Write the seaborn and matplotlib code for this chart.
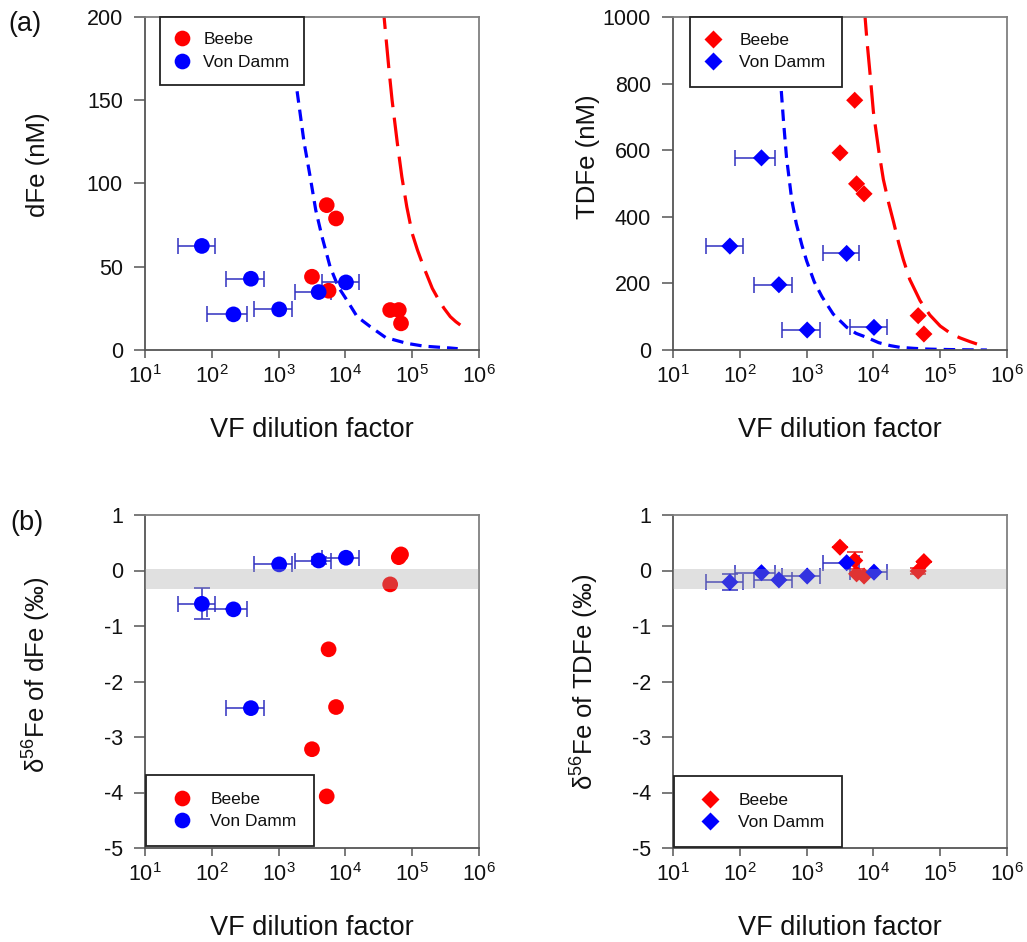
import numpy as np
import pandas as pd
import matplotlib
matplotlib.use("Agg")
import matplotlib.pyplot as plt
import seaborn as sns
from matplotlib.lines import Line2D

# ---------------- data ----------------
# Von Damm
vd_vf = [71, 211, 385, 1020, 3980, 10200]
vd_vf_err = [40, 125, 220, 590, 2200, 5700]
vd_dfe = [62.5, 21.4, 42.8, 24.4, 34.8, 40.6]
vd_tdfe = [312, 577, 196, 60, 290, 68]
vd_d56_dfe = [-0.60, -0.70, -2.48, 0.11, 0.18, 0.23]
vd_d56_dfe_err = [0.28, 0, 0, 0, 0.06, 0]
vd_d56_tdfe = [-0.21, -0.04, -0.17, -0.10, 0.14, -0.03]
vd_d56_tdfe_err = [0.14, 0, 0, 0, 0, 0]

# Beebe
bb_vf = [3160, 5250, 5600, 7240, 46800, 63000, 68000]
bb_dfe = [44, 87, 35.6, 79, 24, 24, 16]
bb_d56_dfe = [-3.22, -4.07, -1.42, -2.46, -0.25, 0.24, 0.29]
bb_vf_t = [3160, 5250, 5600, 7240, 46800, 57000]
bb_tdfe = [592, 750, 499, 469, 103, 48]
bb_d56_tdfe = [0.42, 0.18, -0.06, -0.10, -0.01, 0.16]
bb_d56_tdfe_err = [0, 0.15, 0, 0, 0.06, 0]

# dilution curves
cur_dfe_blue_vf = [1400, 1840, 2400, 2970, 3600, 4470, 5900, 7800, 10500, 15000,
                   23600, 40000, 83000, 150000, 372000, 480000]
cur_dfe_blue_fe = [215, 159, 125, 104, 84, 68, 50, 38, 30, 20,
                   14, 7.5, 4, 2.3, 1.2, 0.8]
cur_dfe_red_vf = [36000, 40000, 45000, 50000, 60000, 70000, 83000, 100000, 120000,
                  148000, 200000, 250000, 300000, 372000, 450000, 525000]
cur_dfe_red_fe = [210, 190, 168, 150, 124, 104, 86, 70, 60,
                  50, 37, 30, 25, 20, 17, 15]
cur_tdfe_blue_vf = [370, 412, 450, 500, 600, 700, 850, 1000, 1300, 1700, 2500, 4000,
                    5500, 7900, 12000, 18000, 25000, 40000, 60000, 100000, 200000, 500000]
cur_tdfe_blue_fe = [1000, 795, 690, 579, 450, 380, 315, 268, 205, 160, 108, 68,
                    50, 38, 22, 13, 8, 5, 3, 1.8, 0.8, 0]
cur_tdfe_red_vf = [7300, 8000, 9000, 10000, 12000, 14100, 17000, 20000, 24000, 28000,
                   35000, 50000, 70000, 100000, 150000, 200000, 280000, 355000]
cur_tdfe_red_fe = [1030, 930, 820, 715, 600, 512, 440, 385, 320, 272,
                   212, 148, 105, 72, 47, 36, 25, 18]

band_lo, band_hi = -0.33, 0.03

RED = "#ff0000"
BLUE = "#0000ff"
EB_BLUE = "#3030c0"
EB_RED = "#e02020"

# ---------------- style ----------------
sns.set_theme(style="ticks")
plt.rcParams["font.family"] = ["Liberation Sans", "DejaVu Sans"]
plt.rcParams["mathtext.fontset"] = "custom"
plt.rcParams["mathtext.rm"] = "Liberation Sans"
plt.rcParams["mathtext.it"] = "Liberation Sans:italic"
plt.rcParams["mathtext.bf"] = "Liberation Sans:bold"
plt.rcParams["axes.unicode_minus"] = False
plt.rcParams["text.color"] = "#111111"
plt.rcParams["axes.labelcolor"] = "#111111"
plt.rcParams["xtick.labelcolor"] = "#111111"
plt.rcParams["ytick.labelcolor"] = "#111111"

W, H = 1027, 942
fig = plt.figure(figsize=(W / 100, H / 100), dpi=100)


def make_ax(l, t, r, b):
    return fig.add_axes([l / W, 1 - b / H, (r - l) / W, (b - t) / H])


axTL = make_ax(145, 17, 479, 350)
axTR = make_ax(673, 17, 1007, 350)
axBL = make_ax(145, 515, 479, 848)
axBR = make_ax(673, 515, 1007, 848)

CIRC_S = 128
DIAM_S = 76


def style_ax(ax, ylim, yticks, ylabel, ylab_x, ylab_y):
    ax.set_xscale("log")
    ax.set_xlim(10, 1e6)
    ax.set_xticks([1e1, 1e2, 1e3, 1e4, 1e5, 1e6])
    ax.xaxis.set_minor_locator(matplotlib.ticker.NullLocator())
    ax.set_ylim(*ylim)
    ax.set_yticks(yticks)
    for s in ["left", "bottom"]:
        ax.spines[s].set_color("#555555")
        ax.spines[s].set_linewidth(1.3)
    for s in ["top", "right"]:
        ax.spines[s].set_visible(True)
        ax.spines[s].set_color("#808080")
        ax.spines[s].set_linewidth(1.3)
    ax.tick_params(axis="x", direction="out", length=6, width=1.1, color="#555555",
                   labelsize=15.5, pad=5, top=False)
    ax.tick_params(axis="y", direction="out", length=8, width=1.1, color="#555555",
                   labelsize=15.5, pad=8, right=False)
    ax.set_xlabel("VF dilution factor", fontsize=19.5)
    ax.xaxis.set_label_coords(0.5, -0.2)
    ax.set_ylabel(ylabel, fontsize=18.5)
    ax.yaxis.set_label_coords(ylab_x, ylab_y)
    ax.set_facecolor("white")
    ax.grid(False)


def curve(ax, x, y, color, dashes):
    sns.lineplot(x=x, y=y, ax=ax, color=color, lw=2.3, sort=False,
                 estimator=None, legend=False, zorder=2)
    ax.lines[-1].set_dashes(dashes)


def legend(ax, marker, ms, loc, anchor, borderpad, handlelength, handletextpad, labelspacing):
    handles = [Line2D([], [], marker=marker, ls="none", color=RED, mec="none", ms=ms),
               Line2D([], [], marker=marker, ls="none", color=BLUE, mec="none", ms=ms)]
    lg = ax.legend(handles, ["Beebe", "Von Damm"], loc=loc, bbox_to_anchor=anchor,
                   borderaxespad=0, fontsize=12.5, frameon=True, fancybox=False,
                   borderpad=borderpad, handlelength=handlelength,
                   handletextpad=handletextpad, labelspacing=labelspacing)
    fr = lg.get_frame()
    fr.set_edgecolor("#222222")
    fr.set_linewidth(1.3)
    fr.set_facecolor("white")
    fr.set_alpha(1)
    lg.set_zorder(10)


# ---------- (a) dFe ----------
ax = axTL
curve(ax, cur_dfe_blue_vf, cur_dfe_blue_fe, BLUE, (3.6, 2.2))
curve(ax, cur_dfe_red_vf, cur_dfe_red_fe, RED, (9.0, 3.3))
sns.scatterplot(x=bb_vf, y=bb_dfe, ax=ax, color=RED, s=CIRC_S, marker="o",
                edgecolor="none", zorder=4, legend=False)
ax.errorbar(vd_vf, vd_dfe, xerr=vd_vf_err, fmt="none", ecolor=EB_BLUE,
            elinewidth=1.1, capsize=5.5, capthick=1.1, zorder=3)
sns.scatterplot(x=vd_vf, y=vd_dfe, ax=ax, color=BLUE, s=CIRC_S, marker="o",
                edgecolor="none", zorder=5, legend=False)
style_ax(ax, (0, 200), [0, 50, 100, 150, 200], "dFe (nM)", -0.285, 0.555)
legend(ax, "o", 11.3, "upper left", (0.045, 1.0), 0.85, 0.8, 0.85, 0.45)

# ---------- (a) TDFe ----------
ax = axTR
curve(ax, cur_tdfe_blue_vf, cur_tdfe_blue_fe, BLUE, (3.6, 2.2))
curve(ax, cur_tdfe_red_vf, cur_tdfe_red_fe, RED, (9.0, 3.3))
sns.scatterplot(x=bb_vf_t, y=bb_tdfe, ax=ax, color=RED, s=DIAM_S, marker="D",
                edgecolor="none", zorder=4, legend=False)
ax.errorbar(vd_vf, vd_tdfe, xerr=vd_vf_err, fmt="none", ecolor=EB_BLUE,
            elinewidth=1.1, capsize=5.5, capthick=1.1, zorder=3)
sns.scatterplot(x=vd_vf, y=vd_tdfe, ax=ax, color=BLUE, s=DIAM_S, marker="D",
                edgecolor="none", zorder=5, legend=False)
style_ax(ax, (0, 1000), [0, 200, 400, 600, 800, 1000], "TDFe (nM)", -0.218, 0.58)
legend(ax, "D", 8.7, "upper left", (0.051, 1.0), 0.93, 0.8, 1.1, 0.4)

# ---------- (b) d56Fe of dFe ----------
ax = axBL
sns.scatterplot(x=bb_vf, y=bb_d56_dfe, ax=ax, color=RED, s=CIRC_S, marker="o",
                edgecolor="none", zorder=4, legend=False)
ax.errorbar(vd_vf, vd_d56_dfe, xerr=vd_vf_err, yerr=vd_d56_dfe_err, fmt="none",
            ecolor=EB_BLUE, elinewidth=1.1, capsize=5.5, capthick=1.1, zorder=3)
sns.scatterplot(x=vd_vf, y=vd_d56_dfe, ax=ax, color=BLUE, s=CIRC_S, marker="o",
                edgecolor="none", zorder=5, legend=False)
ax.axhspan(band_lo, band_hi, color="#a0a0a0", alpha=0.32, lw=0, zorder=6)
style_ax(ax, (-5, 1), [-5, -4, -3, -2, -1, 0, 1], "δ$^{56}$Fe of dFe (‰)", -0.275, 0.52)
legend(ax, "o", 11.3, "lower left", (0.003, 0.006), 1.0, 2.1, 0.6, 0.35)

# ---------- (b) d56Fe of TDFe ----------
ax = axBR
ax.errorbar(bb_vf_t, bb_d56_tdfe, yerr=bb_d56_tdfe_err, fmt="none", ecolor=EB_RED,
            elinewidth=1.1, capsize=5.5, capthick=1.1, zorder=3)
sns.scatterplot(x=bb_vf_t, y=bb_d56_tdfe, ax=ax, color=RED, s=DIAM_S, marker="D",
                edgecolor="none", zorder=4, legend=False)
ax.errorbar(vd_vf, vd_d56_tdfe, xerr=vd_vf_err, yerr=vd_d56_tdfe_err, fmt="none",
            ecolor=EB_BLUE, elinewidth=1.1, capsize=5.5, capthick=1.1, zorder=3)
sns.scatterplot(x=vd_vf, y=vd_d56_tdfe, ax=ax, color=BLUE, s=DIAM_S, marker="D",
                edgecolor="none", zorder=5, legend=False)
ax.axhspan(band_lo, band_hi, color="#a0a0a0", alpha=0.32, lw=0, zorder=6)
style_ax(ax, (-5, 1), [-5, -4, -3, -2, -1, 0, 1], "δ$^{56}$Fe of TDFe (‰)", -0.215, 0.5)
legend(ax, "D", 8.7, "lower left", (0.003, 0.003), 1.0, 2.1, 0.6, 0.35)

# panel labels
fig.text(8 / W, 1 - 24 / H, "(a)", fontsize=19.5, va="center", ha="left")
fig.text(10 / W, 1 - 523 / H, "(b)", fontsize=19.5, va="center", ha="left")

fig.savefig("out.png", dpi=100, facecolor="white")
